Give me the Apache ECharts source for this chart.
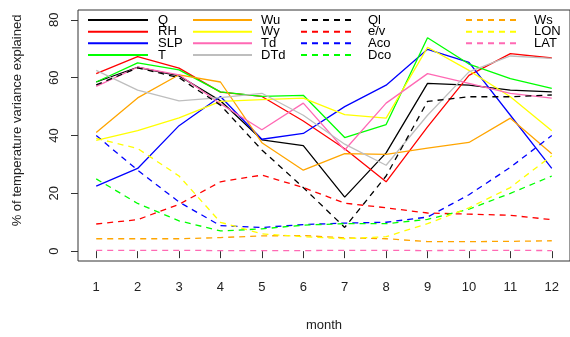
<!DOCTYPE html>
<html><head><meta charset="utf-8">
<script src="https://cdn.jsdelivr.net/npm/echarts@6/dist/echarts.min.js"></script>
<style>html,body{margin:0;padding:0;background:#fff}#c{width:570px;height:337px}</style>
</head><body><div id="c"></div>
<script>
const months = [1,2,3,4,5,6,7,8,9,10,11,12];
const yTicks = [0,20,40,60,80];
const Q   = [58.5, 63.6, 60.6, 52, 38.5, 36.5, 18.7, 34, 58, 57.4, 55.7, 55.1];
const RH  = [61.4, 67.3, 63.3, 55, 53.5, 45, 35.4, 24, 43, 60.8, 68.3, 66.8];
const SLP = [22.5, 28.6, 43.4, 53.5, 38.7, 40.7, 50, 57.4, 69.8, 65.3, 47, 28.6];
const T   = [58.5, 65.1, 62.7, 55.1, 53.5, 53.9, 39.3, 43.8, 73.8, 64.7, 59.7, 56.3];
const Wu  = [41, 53, 61, 58.5, 37.5, 28, 33.7, 33.5, 35.6, 37.6, 46, 33.7];
const Wy  = [38.3, 41.7, 46.1, 51.8, 52.4, 52.9, 47.2, 46, 70.5, 62.5, 53.4, 41.6];
const Td  = [57, 63.6, 61, 51, 42, 51.2, 35, 51.2, 61.4, 58, 54.6, 52.9];
const DTd = [62.5, 55.7, 52, 53.1, 54.6, 47, 37, 29.7, 47, 62, 67.5, 66.7];
const Ql  = [57.5, 63.4, 60, 50.5, 35, 22, 8.2, 26, 51.8, 53.4, 53.4, 54];
const ev  = [9.4, 10.9, 16.2, 24, 26.3, 22, 16.6, 15, 13.2, 12.8, 12.4, 10.9];
const Aco = [40, 28, 17, 8.8, 8.2, 9.2, 9.7, 10, 11.8, 19.5, 29, 40];
const Dco = [25, 16.5, 10.5, 7, 7.7, 9, 9.5, 9.5, 11, 14.5, 20, 26];
const Ws  = [4.3, 4.3, 4.3, 4.7, 5.3, 5.4, 4.6, 4.3, 3.3, 3.3, 3.4, 3.6];
const LON = [39, 35.5, 26, 10, 6, 5, 4.3, 5, 9.5, 15, 22, 33];
const LAT = [0.3, 0.3, 0.3, 0.2, 0.2, 0.2, 0.3, 0.3, 0.2, 0.3, 0.3, 0.2];

const seriesDefs = [
  ['Q', Q, '#000000', 'solid'], ['RH', RH, '#FF0000', 'solid'], ['SLP', SLP, '#0000FF', 'solid'], ['T', T, '#00FF00', 'solid'],
  ['Wu', Wu, '#FFA500', 'solid'], ['Wy', Wy, '#FFFF00', 'solid'], ['Td', Td, '#FF69B4', 'solid'], ['DTd', DTd, '#BEBEBE', 'solid'],
  ['Ql', Ql, '#000000', 'dashed'], ['e/v', ev, '#FF0000', 'dashed'], ['Aco', Aco, '#0000FF', 'dashed'], ['Dco', Dco, '#00FF00', 'dashed'],
  ['Ws', Ws, '#FFA500', 'dashed'], ['LON', LON, '#FFFF00', 'dashed'], ['LAT', LAT, '#FF69B4', 'dashed']
];
const FONT = 'Liberation Sans, Arial, sans-serif';
const series = seriesDefs.map(([name, vals, color, type]) => ({
  name, type: 'line', symbol: 'none', animation: false,
  data: months.map((m, i) => [m, vals[i]]),
  itemStyle: {color},
  lineStyle: {color, width: 1.3, type: type === 'dashed' ? [6, 5] : 'solid'}
}));
const legendCols = [[87, 60, 5, ['Q','RH','SLP','T']], [192, 59, 4, ['Wu','Wy','Td','DTd']], [300, 55, 7, ['Ql','e/v','Aco','Dco']], [465, 55, 8, ['Ws','LON','LAT']]];
const legends = legendCols.map(([left, w, pad, names]) => ({
  data: names, left, top: 13.5, padding: 0, orient: 'vertical', itemWidth: w, itemHeight: 11.67, itemGap: -1.33,
  selectedMode: false, itemStyle: {opacity: 0},
  textStyle: {fontSize: 13, lineHeight: 11.67, color: '#000', fontFamily: FONT, padding: [0, 0, 0, pad]}
}));
const chart = echarts.init(document.getElementById('c'), null, {renderer: 'canvas'});
chart.setOption({
  animation: false,
  backgroundColor: '#fff',
  grid: {left: 78, top: 10, width: 493, height: 256, show: true, borderColor: '#333', borderWidth: 1, backgroundColor: 'transparent'},
  legend: legends,
  xAxis: {
    type: 'value', min: 0.56, max: 12.44,
    axisLine: {show: false}, splitLine: {show: false},
    axisTick: {show: true, length: 7, lineStyle: {color: '#333'}, customValues: months},
    axisLabel: {customValues: months, margin: 20, fontSize: 13, color: '#222', fontFamily: FONT},
    name: 'month', nameLocation: 'middle', nameGap: 58,
    nameTextStyle: {fontSize: 13, color: '#222', fontFamily: FONT}
  },
  yAxis: {
    type: 'value', min: -3.4, max: 83.4,
    axisLine: {show: false}, splitLine: {show: false},
    axisTick: {show: true, length: 7, lineStyle: {color: '#333'}, customValues: yTicks},
    axisLabel: {customValues: yTicks, rotate: 90, margin: 17, fontSize: 13, color: '#222', fontFamily: FONT},
    name: '% of temperature variance explained', nameLocation: 'middle', nameGap: 54, nameRotate: 90,
    nameTextStyle: {fontSize: 13, color: '#222', fontFamily: FONT, padding: [0, 0, 0, 30]}
  },
  series
});
</script></body></html>
